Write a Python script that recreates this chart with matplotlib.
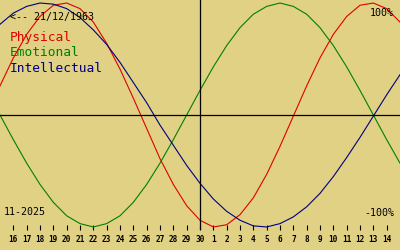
import matplotlib
matplotlib.use("Agg")
import matplotlib.pyplot as plt
import numpy as np

bg = "#e0d184"
mono = "DejaVu Sans Mono"

# calendar days shown along x (edges 15 Nov / 15 Dec carry no tick)
days = [15, 16, 17, 18, 19, 20, 21, 22, 23, 24, 25, 26, 27, 28, 29, 30,
        1, 2, 3, 4, 5, 6, 7, 8, 9, 10, 11, 12, 13, 14, 15]

physical = [0.26, 0.51, 0.72, 0.88, 0.98, 1.00, 0.95, 0.83, 0.64, 0.41, 0.15,
            -0.12, -0.39, -0.62, -0.81, -0.94, -1.00, -0.98, -0.89, -0.74, -0.53,
            -0.28, -0.01, 0.26, 0.51, 0.72, 0.88, 0.98, 1.00, 0.95, 0.83]
emotional = [0.00, -0.22, -0.43, -0.62, -0.78, -0.90, -0.97, -1.00, -0.97, -0.90, -0.78,
             -0.62, -0.43, -0.22, 0.00, 0.22, 0.43, 0.62, 0.78, 0.90, 0.97,
             1.00, 0.97, 0.90, 0.78, 0.62, 0.43, 0.22, 0.00, -0.22, -0.43]
intellectual = [0.81, 0.91, 0.97, 1.00, 0.99, 0.95, 0.87, 0.76, 0.63, 0.47, 0.29,
                0.11, -0.09, -0.27, -0.45, -0.61, -0.75, -0.86, -0.94, -0.99, -1.00,
                -0.97, -0.91, -0.82, -0.70, -0.55, -0.38, -0.20, -0.01, 0.18, 0.36]

series = [("Physical", physical, "#e00000"),
          ("Emotional", emotional, "#008000"),
          ("Intellectual", intellectual, "#000080")]

fig = plt.figure(figsize=(4, 2.5), dpi=100, facecolor=bg)
ax = fig.add_axes([0, 20 / 250, 1, 230 / 250])
ax.set_facecolor(bg)

x = np.arange(len(days))
for name, vals, col in series:
    ax.plot(x, vals, color=col, lw=0.8)

ax.axhline(0, color="black", lw=0.9)
ax.axvline(days.index(30), color="black", lw=0.9)

ax.set_xlim(0, len(days) - 1)
ax.set_ylim(-1.027, 1.027)
for s in ax.spines.values():
    s.set_visible(False)
ax.set_yticks([])
ax.set_xticks(x[1:-1])
ax.set_xticklabels([str(d) for d in days[1:-1]], fontfamily=mono,
                   fontweight="bold", fontsize=5.6)
ax.tick_params(axis="x", direction="in", length=3.8, width=0.8, pad=3.5,
               color="black")

fig.text(0.025, 0.932, "<-- 21/12/1963", fontfamily=mono, fontsize=7.2,
         va="center", ha="left")
for k, (name, vals, col) in enumerate(series):
    fig.text(0.025, 0.848 - k * 0.06, name, color=col, fontfamily=mono,
             fontsize=9.3, va="center", ha="left")
fig.text(0.985, 0.946, "100%", fontfamily=mono, fontsize=7.2, va="center", ha="right")
fig.text(0.985, 0.148, "-100%", fontfamily=mono, fontsize=7.2, va="center", ha="right")
fig.text(0.01, 0.152, "11-2025", fontfamily=mono, fontsize=7.2, va="center", ha="left")

fig.savefig("out.png", dpi=100, facecolor=bg)
